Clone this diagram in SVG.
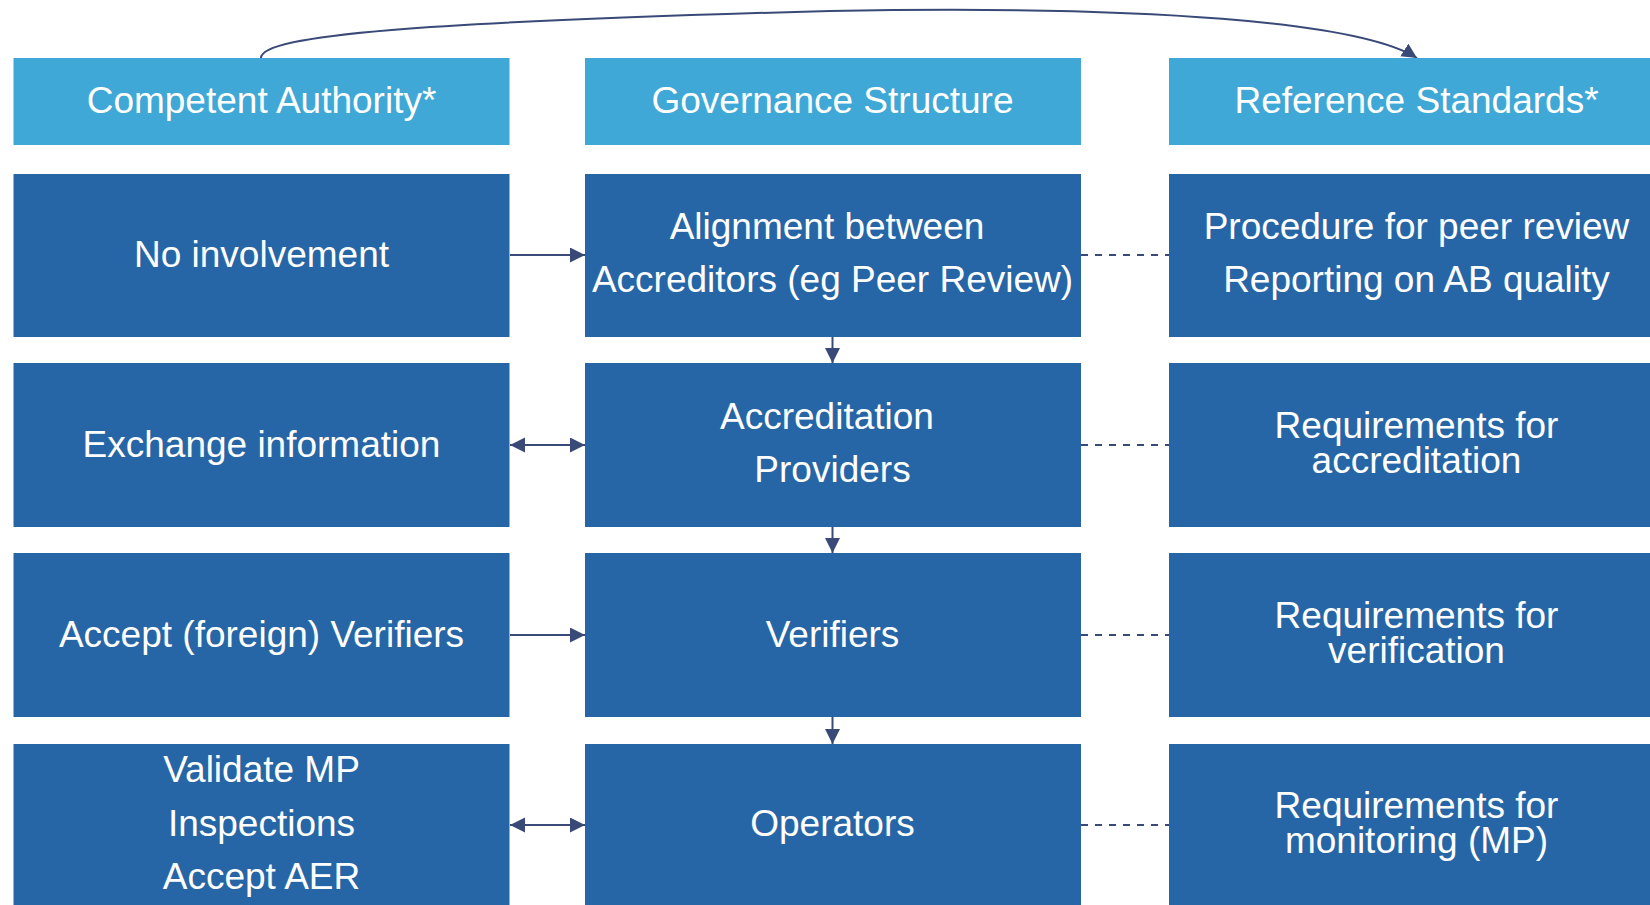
<svg xmlns="http://www.w3.org/2000/svg" width="1650" height="905" viewBox="0 0 1650 905">
<style>
.hdr{fill:#40a8d6}
.box{fill:#2766a6}
text{font-family:"Liberation Sans",Arial,sans-serif;font-size:37px;fill:#ffffff;text-anchor:middle}
.c{stroke:#3a4a78;stroke-width:2;fill:none}
.d{stroke:#3a4a78;stroke-width:2;fill:none;stroke-dasharray:7 7}
</style>
<defs>
<marker id="ah" markerWidth="16" markerHeight="16" refX="15" refY="7.5" orient="auto-start-reverse" markerUnits="userSpaceOnUse">
<path d="M0,0 L15,7.5 L0,15 z" fill="#3a4a78"/>
</marker>
</defs>
<rect width="1650" height="905" fill="#ffffff"/>

<g id="connectors">
<path class="c" d="M261,58 C261,35 420,22 830,11 C1150,5 1360,22 1417,58" marker-end="url(#ah)"/>
<line class="c" x1="510" y1="255" x2="585" y2="255" marker-end="url(#ah)"/>
<line class="c" x1="510" y1="445" x2="585" y2="445" marker-start="url(#ah)" marker-end="url(#ah)"/>
<line class="c" x1="510" y1="635" x2="585" y2="635" marker-end="url(#ah)"/>
<line class="c" x1="510" y1="825" x2="585" y2="825" marker-start="url(#ah)" marker-end="url(#ah)"/>
<line class="c" x1="832.5" y1="337" x2="832.5" y2="363" marker-end="url(#ah)"/>
<line class="c" x1="832.5" y1="527" x2="832.5" y2="553" marker-end="url(#ah)"/>
<line class="c" x1="832.5" y1="717" x2="832.5" y2="744" marker-end="url(#ah)"/>
<line class="d" x1="1081" y1="255" x2="1169" y2="255"/>
<line class="d" x1="1081" y1="445" x2="1169" y2="445"/>
<line class="d" x1="1081" y1="635" x2="1169" y2="635"/>
<line class="d" x1="1081" y1="825" x2="1169" y2="825"/>
</g>

<g id="hdr-ca"><rect class="hdr" x="13.5" y="58" width="496" height="87"/><text x="261.5" y="113">Competent Authority*</text></g>
<g id="hdr-gs"><rect class="hdr" x="585" y="58" width="496" height="87"/><text x="832.5" y="113">Governance Structure</text></g>
<g id="hdr-rs"><rect class="hdr" x="1169" y="58" width="496" height="87"/><text x="1416.5" y="113">Reference Standards*</text></g>

<g id="ca1"><rect class="box" x="13.5" y="174" width="496" height="163"/><text x="261.5" y="267">No involvement</text></g>
<g id="gs1"><rect class="box" x="585" y="174" width="496" height="163"/><text x="827" y="239">Alignment between</text><text x="832.5" y="292">Accreditors (eg Peer Review)</text></g>
<g id="rs1"><rect class="box" x="1169" y="174" width="496" height="163"/><text x="1416.5" y="239">Procedure for peer review</text><text x="1416.5" y="292">Reporting on AB quality</text></g>

<g id="ca2"><rect class="box" x="13.5" y="363" width="496" height="164"/><text x="261.5" y="457">Exchange information</text></g>
<g id="gs2"><rect class="box" x="585" y="363" width="496" height="164"/><text x="827" y="429">Accreditation</text><text x="832.5" y="482">Providers</text></g>
<g id="rs2"><rect class="box" x="1169" y="363" width="496" height="164"/><text x="1416.5" y="438">Requirements for</text><text x="1416.5" y="473">accreditation</text></g>

<g id="ca3"><rect class="box" x="13.5" y="553" width="496" height="164"/><text x="261.5" y="647">Accept (foreign) Verifiers</text></g>
<g id="gs3"><rect class="box" x="585" y="553" width="496" height="164"/><text x="832.5" y="647">Verifiers</text></g>
<g id="rs3"><rect class="box" x="1169" y="553" width="496" height="164"/><text x="1416.5" y="628">Requirements for</text><text x="1416.5" y="663">verification</text></g>

<g id="ca4"><rect class="box" x="13.5" y="744" width="496" height="163"/><text x="261.5" y="782">Validate MP</text><text x="261.5" y="835.5">Inspections</text><text x="261.5" y="889">Accept AER</text></g>
<g id="gs4"><rect class="box" x="585" y="744" width="496" height="163"/><text x="832.5" y="836">Operators</text></g>
<g id="rs4"><rect class="box" x="1169" y="744" width="496" height="163"/><text x="1416.5" y="818">Requirements for</text><text x="1416.5" y="853">monitoring (MP)</text></g>
</svg>
